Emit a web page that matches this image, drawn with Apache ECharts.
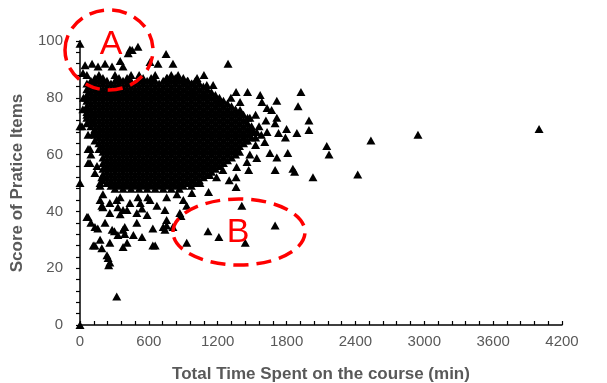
<!DOCTYPE html>
<html>
<head>
<meta charset="utf-8">
<script src="https://cdn.jsdelivr.net/npm/echarts@6/dist/echarts.min.js"></script>
<style>
html,body{margin:0;padding:0;background:#fff}
#chart{width:607px;height:383px}
</style>
</head>
<body>
<div id="chart"></div>
<script>
// solid core of the cloud (thousands of overlapping points), read row by row: [score, time, time, ...]
var coreRows = [
    [88, 165,305,445,515,655,795],
    [87, 130,200,340,410,550,620,760,830,900],
    [86, 95,165,235,305,375,445,515,585,655,725,795,865,935,1005],
    [85, 60,130,200,270,340,410,480,550,620,690,760,830,900,970,1040],
    [84, 95,165,235,305,375,445,515,585,655,725,795,865,935,1005,1075],
    [83, 60,130,200,270,340,410,480,550,620,690,760,830,900,970,1040,1110],
    [82, 95,165,235,305,375,445,515,585,655,725,795,865,935,1005,1075,1145],
    [81, 60,130,200,270,340,410,480,550,620,690,760,830,900,970,1040,1110,1180],
    [80, 95,165,235,305,375,445,515,585,655,725,795,865,935,1005,1075,1145,1215],
    [79, 60,130,200,270,340,410,480,550,620,690,760,830,900,970,1040,1110,1180,1250],
    [78, 95,165,235,305,375,445,515,585,655,725,795,865,935,1005,1075,1145,1215,1285],
    [77, 60,130,200,270,340,410,480,550,620,690,760,830,900,970,1040,1110,1180,1250,1320],
    [76, 95,165,235,305,375,445,515,585,655,725,795,865,935,1005,1075,1145,1215,1285,1355],
    [75, 60,130,200,270,340,410,480,550,620,690,760,830,900,970,1040,1110,1180,1250,1320,1390],
    [74, 95,165,235,305,375,445,515,585,655,725,795,865,935,1005,1075,1145,1215,1285,1355,1425],
    [73, 60,130,200,270,340,410,480,550,620,690,760,830,900,970,1040,1110,1180,1250,1320,1390,1460],
    [72, 95,165,235,305,375,445,515,585,655,725,795,865,935,1005,1075,1145,1215,1285,1355,1425],
    [71, 60,130,200,270,340,410,480,550,620,690,760,830,900,970,1040,1110,1180,1250,1320,1390,1460],
    [70, 95,165,235,305,375,445,515,585,655,725,795,865,935,1005,1075,1145,1215,1285,1355,1425,1495],
    [69, 130,200,270,340,410,480,550,620,690,760,830,900,970,1040,1110,1180,1250,1320,1390,1460],
    [68, 165,235,305,375,445,515,585,655,725,795,865,935,1005,1075,1145,1215,1285,1355,1425,1495],
    [67, 130,200,270,340,410,480,550,620,690,760,830,900,970,1040,1110,1180,1250,1320,1390,1460],
    [66, 165,235,305,375,445,515,585,655,725,795,865,935,1005,1075,1145,1215,1285,1355,1425,1495],
    [65, 130,200,270,340,410,480,550,620,690,760,830,900,970,1040,1110,1180,1250,1320,1390,1460],
    [64, 165,235,305,375,445,515,585,655,725,795,865,935,1005,1075,1145,1215,1285,1355,1425],
    [63, 200,270,340,410,480,550,620,690,760,830,900,970,1040,1110,1180,1250,1320,1390],
    [62, 165,235,305,375,445,515,585,655,725,795,865,935,1005,1075,1145,1215,1285,1355],
    [61, 200,270,340,410,480,550,620,690,760,830,900,970,1040,1110,1180,1250,1320,1390],
    [60, 235,305,375,445,515,585,655,725,795,865,935,1005,1075,1145,1215,1285,1355],
    [59, 200,270,340,410,480,550,620,690,760,830,900,970,1040,1110,1180,1250,1320],
    [58, 235,305,375,445,515,585,655,725,795,865,935,1005,1075,1145,1215,1285],
    [57, 200,270,340,410,480,550,620,690,760,830,900,970,1040,1110,1180,1250],
    [56, 235,305,375,445,515,585,655,725,795,865,935,1005,1075,1145,1215],
    [55, 200,270,340,410,480,550,620,690,760,830,900,970,1040,1110,1180],
    [54, 235,305,375,445,515,585,655,725,795,865,935,1005,1075,1145],
    [53, 200,270,340,410,480,550,620,690,760,830,900,970,1040,1110],
    [52, 235,305,375,445,515,585,655,725,795,865,935,1005,1075],
    [51, 200,270,340,410,480,550,620,690,760,830,900,970,1040],
    [50, 235,305,375,445,515,585,655,725,795,865,935,1005],
    [49, 270,340,410,480,550,620,690,760,830,900,970],
    [48, 305,375,445,515,585,655,725,795,865]
];

// scattered points around the core
var edgePoints = [
    [0,99],[0,70],[0,50],[0,0],[26,88.7],[44,91.5],[105,92],[157,91],[218,92],[279,91],[375,91],
    [350,93],[420,95.7],[455,96.8],[435,97],[505,98],[610,92.6],[680,92],[750,95.4],[810,92],[1290,92],
    [60,88],[755,87],[855,88],[940,86],[1020,87],[975,85],[1105,84.5],[1160,84.5],[1080,88],[985,82],[1090,81],
    [1220,79],[1315,80],[1360,82],[1460,82],[1570,81],[1395,78.5],[1585,78.5],[1715,79],[1925,82],
    [1900,77],[1395,75.7],[1630,76.4],[1670,75.7],[1480,73],[1530,74],[1715,73],[1700,71],[1620,72],
    [1800,69],[1890,67.6],[1630,68],[1730,67.6],[1790,66],[1500,69],[1995,72],[1995,68.7],[1580,67],
    [1610,64.4],[1530,63.4],[1530,66],[1440,65],[1560,70],[1540,68],
    [1655,60.6],[1715,59],[1810,60.6],[1540,58.8],[1480,60],[1455,57.4],[1365,55.6],[1245,54.6],
    [1130,52.8],[1045,50],[975,46.5],[1300,51],[1190,52],[1360,52],[1360,48.6],[1120,46.8],
    [2150,63],[2170,60],[2535,65],[2945,67],[4000,69],[2420,53],[2030,52],[1855,55],[1870,54],[1700,54.6],
    [1470,54.6],[1410,42],[1700,35],[1440,29],[1115,33],[1210,31],[880,38.4],[930,29],
    [17,70],[30,80],[25,76],[60,76.8],[50,80],[60,74],[100,72],[70,67],[115,67.6],[70,62],[87,62],
    [95,60],[70,57],[87,57],[148,56],[130,53.5],[190,52],[175,50],[175,49],[200,46],[190,42],
    [320,44],[350,45],[435,43],[505,45],[590,45],[610,44],[670,42],[755,45],[845,46],[900,44],[930,42],
    [175,44],[200,41.5],[260,43],[260,39.4],[330,41.5],[375,40.5],[410,40.5],[495,39.4],[525,43],
    [540,41],[585,38.7],[740,40.5],[870,39.4],[350,39],[755,37],[810,34.5],[725,34.5],[755,35],[635,34],
    [740,33.5],[60,38],[70,38],[95,36],[130,34.5],[155,34],[218,36],[280,33.5],[300,33],[375,33.5],
    [390,34.5],[495,36],[330,31.7],[390,32],[465,31.7],[540,31],[175,30],[260,29],[410,29],
    [130,28],[115,28],[190,27],[375,27.5],[635,28],[655,28],[245,23.6],[235,24.6],[260,22],[250,21],[320,10]
];

var xTicks = [0, 600, 1200, 1800, 2400, 3000, 3600, 4200];
var yTicks = [0, 20, 40, 60, 80, 100];

var points = [];
coreRows.forEach(function (r) {
    r.slice(1).forEach(function (x) { points.push([x, r[0]]); });
});
edgePoints.forEach(function (p) { points.push(p); });

var myChart = echarts.init(document.getElementById('chart'));
var grey = '#595959';
var font = 'Liberation Sans, Arial, sans-serif';
var black = { color: '#000', width: 1.5 };

option = {
    animation: false,
    grid: { left: 80, right: 45, top: 41, bottom: 58, outerBoundsMode: 'none', containLabel: false },
    xAxis: {
        type: 'value', show: true,
        min: xTicks[0], max: xTicks[xTicks.length - 1], interval: 600,
        name: 'Total Time Spent on the course (min)',
        nameLocation: 'middle', nameGap: 41,
        nameTextStyle: { color: grey, fontSize: 17, fontWeight: 'bold', fontFamily: font },
        axisLine: { show: true, onZero: false, lineStyle: black },
        axisTick: { show: true, inside: true, length: 4, lineStyle: { color: '#000', width: 1.2 } },
        minorTick: { show: true, splitNumber: 5, length: 4, lineStyle: { color: '#000', width: 1.2 } },
        axisLabel: { color: grey, fontSize: 15, fontFamily: font, margin: 9,
            formatter: function (v) { return String(v); } },
        splitLine: { show: false }
    },
    yAxis: {
        type: 'value', show: true,
        min: yTicks[0], max: yTicks[yTicks.length - 1], interval: 20,
        name: 'Score of Pratice Items',
        nameLocation: 'middle', nameGap: 54,
        nameTextStyle: { color: grey, fontSize: 17, fontWeight: 'bold', fontFamily: font },
        axisLine: { show: true, onZero: false, lineStyle: black },
        axisTick: { show: true, length: 4, lineStyle: { color: '#000', width: 1.2 } },
        minorTick: { show: true, splitNumber: 5, length: 4, lineStyle: { color: '#000', width: 1.2 } },
        axisLabel: { color: grey, fontSize: 15, fontFamily: font, margin: 17,
            formatter: function (v) { return String(v); } },
        splitLine: { show: false }
    },
    series: [
        {
            type: 'scatter',
            symbol: 'triangle',
            symbolSize: [9, 8],
            clip: false,
            itemStyle: { color: '#000', opacity: 1 },
            data: points
        }
    ],
    graphic: [
        { type: 'ellipse', z: 100, shape: { cx: 109, cy: 50, rx: 44, ry: 40 },
          style: { fill: 'none', stroke: '#ff0000', lineWidth: 3.5, lineDash: [15, 8] } },
        { type: 'text', z: 100, x: 111, y: 45,
          style: { text: 'A', fill: '#ff0000', font: '34px ' + font, textAlign: 'center', textVerticalAlign: 'middle' } },
        { type: 'ellipse', z: 100, shape: { cx: 239, cy: 232, rx: 66, ry: 33 },
          style: { fill: 'none', stroke: '#ff0000', lineWidth: 3.5, lineDash: [15, 8] } },
        { type: 'text', z: 100, x: 238, y: 233,
          style: { text: 'B', fill: '#ff0000', font: '34px ' + font, textAlign: 'center', textVerticalAlign: 'middle' } }
    ]
};
myChart.setOption(option);
</script>
</body>
</html>
